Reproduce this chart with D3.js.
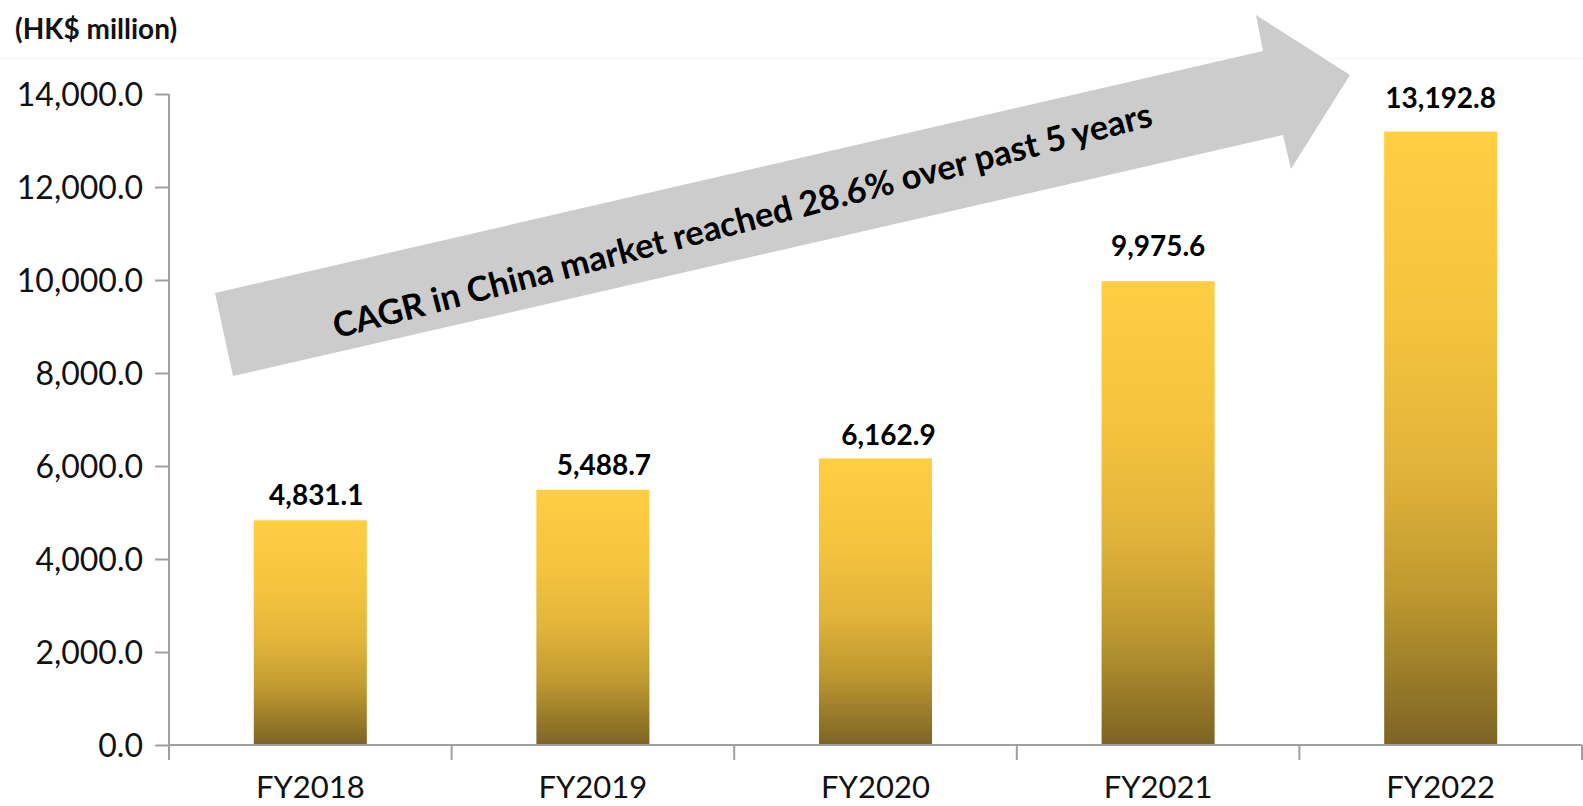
<!DOCTYPE html>
<html>
<head>
<meta charset="utf-8">
<script src="https://cdn.jsdelivr.net/npm/d3@7"></script>
<style>
  html, body { margin: 0; padding: 0; background: #ffffff; }
  svg { display: block; font-family: Lato, "Open Sans", sans-serif; }
</style>
</head>
<body>
<svg id="chart" width="1583" height="806"></svg>
<script>
// Revenue from the China market, HK$ million
const categories = ["FY2018", "FY2019", "FY2020", "FY2021", "FY2022"];
const revenue = [4831.1, 5488.7, 6162.9, 9975.6, 13192.8];
const yTicks = [0, 2000, 4000, 6000, 8000, 10000, 12000, 14000];
const unitLabel = "(HK$ million)";
const cagrNote = "CAGR in China market reached 28.6% over past 5 years";

// hand-placed nudges for the value labels [dx, dy]
const labelNudge = [[6, 0], [11, 0], [13, 2], [0, -10], [0, -9]];

const svg = d3.select("#chart");
const plot = { left: 169, right: 1582, top: 94, bottom: 745 };
const axisColor = "#a0a0a0";

const x = d3.scaleBand()
  .domain(categories)
  .range([plot.left, plot.right])
  .paddingInner(0.6)
  .paddingOuter(0.3);

const y = d3.scaleLinear()
  .domain([0, 14000])
  .range([plot.bottom, plot.top]);

// faint separator under the unit label
svg.append("line")
  .attr("x1", 0).attr("x2", 1583)
  .attr("y1", 58.5).attr("y2", 58.5)
  .attr("stroke", "#f4f4f4").attr("stroke-width", 1);

// gold gradient used by every bar
const defs = svg.append("defs");
const grad = defs.append("linearGradient")
  .attr("id", "goldFill")
  .attr("x1", 0).attr("y1", 0).attr("x2", 0).attr("y2", 1);
[
  [0, "#ffce43"],
  [0.3, "#f5c43e"],
  [0.55, "#e1b33a"],
  [0.75, "#bf9930"],
  [1, "#7c6424"]
].forEach(([o, c]) => grad.append("stop").attr("offset", o).attr("stop-color", c));

// bars
svg.append("g").selectAll("rect")
  .data(categories)
  .join("rect")
  .attr("x", d => x(d))
  .attr("width", x.bandwidth())
  .attr("y", (d, i) => y(revenue[i]))
  .attr("height", (d, i) => y(0) - y(revenue[i]))
  .attr("fill", "url(#goldFill)");

// y axis
const yAxis = svg.append("g")
  .attr("transform", `translate(${plot.left},0)`)
  .call(d3.axisLeft(y)
    .tickValues(yTicks)
    .tickFormat(d3.format(",.1f"))
    .tickSize(14)
    .tickPadding(12));
yAxis.select(".domain").remove();
yAxis.selectAll(".tick line").attr("stroke", axisColor).attr("stroke-width", 2);
yAxis.selectAll(".tick text")
  .attr("fill", "#111")
  .attr("font-family", "Lato, sans-serif")
  .attr("font-size", 32)
  .attr("dy", "0.36em");

// axis lines
svg.append("line")
  .attr("x1", plot.left).attr("x2", plot.left)
  .attr("y1", y(14000)).attr("y2", plot.bottom + 15)
  .attr("stroke", axisColor).attr("stroke-width", 2);
svg.append("line")
  .attr("x1", plot.left).attr("x2", plot.right)
  .attr("y1", y(0)).attr("y2", y(0))
  .attr("stroke", axisColor).attr("stroke-width", 2);

// category boundary ticks
const bounds = d3.range(1, categories.length + 1).map(i => plot.left + i * x.step());
svg.append("g").selectAll("line")
  .data(bounds)
  .join("line")
  .attr("x1", d => d).attr("x2", d => d)
  .attr("y1", y(0)).attr("y2", y(0) + 15)
  .attr("stroke", axisColor).attr("stroke-width", 2);

// category labels
svg.append("g").selectAll("text")
  .data(categories)
  .join("text")
  .attr("x", d => x(d) + x.bandwidth() / 2)
  .attr("y", 798)
  .attr("text-anchor", "middle")
  .attr("font-size", 31)
  .attr("fill", "#111")
  .text(d => d);

// value labels
const fmt = d3.format(",.1f");
svg.append("g").selectAll("text")
  .data(categories)
  .join("text")
  .attr("x", (d, i) => x(d) + x.bandwidth() / 2 + labelNudge[i][0])
  .attr("y", (d, i) => y(revenue[i]) - 15 + labelNudge[i][1])
  .attr("text-anchor", "middle")
  .attr("font-size", 28)
  .attr("font-weight", 700)
  .attr("fill", "#000")
  .text((d, i) => fmt(revenue[i]));

// unit label
svg.append("text")
  .attr("x", 15).attr("y", 39)
  .attr("font-size", 28)
  .attr("font-weight", 700)
  .attr("fill", "#111")
  .text(unitLabel);

// growth arrow
const arrowPts = [
  [215, 293], [1263, 51], [1256, 15], [1350, 75],
  [1291, 169], [1283, 135], [233, 376]
];
svg.append("path")
  .attr("d", d3.line()(arrowPts) + "Z")
  .attr("fill", "#cccccc");

// note text runs slightly steeper than the arrow shaft
svg.append("text")
  .attr("transform", "translate(742,219) rotate(-14.6)")
  .attr("text-anchor", "middle")
  .attr("dominant-baseline", "central")
  .attr("font-size", 34.5)
  .attr("font-weight", 700)
  .attr("fill", "#000")
  .text(cagrNote);
</script>
</body>
</html>
